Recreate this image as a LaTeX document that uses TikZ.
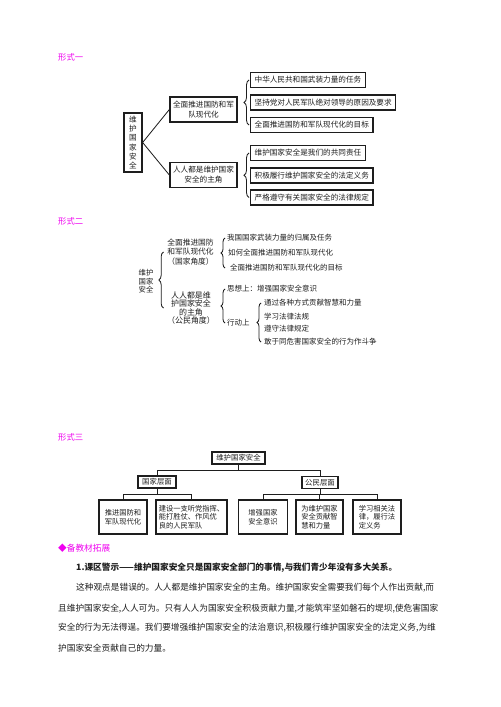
\documentclass[tikz,border=0pt]{standalone}
\usepackage{fontspec}
\setmainfont{Noto Sans CJK SC}
\usetikzlibrary{decorations.pathreplacing}
\definecolor{titlemag}{RGB}{240,0,240}
\definecolor{inkgray}{RGB}{30,30,30}
\tikzset{
  box/.style={draw=inkgray, line width=1.1pt, inner sep=0pt, align=center, text=inkgray},
  leaf/.style={box, anchor=west, inner xsep=0.12cm, minimum height=0.45cm, font=\fontsize{6.5}{8.5}\selectfont},
  plain/.style={inner sep=0pt, text=inkgray},
  item/.style={plain, anchor=west, font=\fontsize{6.4}{7.6}\selectfont},
  link/.style={draw=inkgray, line width=0.7pt},
  curly/.style={link, decorate, decoration={brace, amplitude=#1}},
  curly/.default=0.15cm,
  heading/.style={anchor=west, inner sep=0pt, text=titlemag, font=\fontsize{7.1}{8}\selectfont},
  bodyline/.style={anchor=west, inner sep=0pt, text=inkgray, font=\fontsize{7.4}{8}\selectfont}
}
\begin{document}
\begin{tikzpicture}[x=0.03cm, y=-0.03cm]
\fill[white] (0,0) rectangle (500,707);
\useasboundingbox (0,0) rectangle (500,707);

\node[heading] (t1) at (58,57.5) {形式一};
\node[box, minimum width=0.54cm, minimum height=1.77cm, font=\fontsize{6.5}{7.97}\selectfont] (r1) at (133,142.5) {维\\护\\国\\家\\安\\全};
\node[box, minimum width=2.01cm, minimum height=0.75cm, font=\fontsize{6.5}{8.5}\selectfont] (a1) at (203.5,109.5) {全面推进国防和军\\队现代化};
\node[box, minimum width=2.01cm, minimum height=0.75cm, font=\fontsize{6.5}{8.5}\selectfont] (a2) at (203.5,175) {人人都是维护国家\\安全的主角};
\node[leaf] (l1) at (250,80) {中华人民共和国武装力量的任务};
\node[leaf] (l2) at (250,102.5) {坚持党对人民军队绝对领导的原因及要求};
\node[leaf] (l3) at (250,125) {全面推进国防和军队现代化的目标};
\node[leaf] (l4) at (250,153) {维护国家安全是我们的共同责任};
\node[leaf] (l5) at (250,175.5) {积极履行维护国家安全的法定义务};
\node[leaf] (l6) at (250,197.5) {严格遵守有关国家安全的法律规定};
\coordinate (k1) at (249,0);
\draw[link] (r1.east) -- (a1.west);
\draw[link] (r1.east) -- (a2.west);
\draw[curly] (k1 |- l3) -- (k1 |- l1);
\draw[curly] (k1 |- l6) -- (k1 |- l4);

\node[heading] (t2) at (58,221) {形式二};
\node[plain, align=center, font=\fontsize{6.3}{7.1}\selectfont] (b0) at (146,281.5) {维护\\国家\\安全};
\node[plain, align=center, font=\fontsize{6.6}{7.9}\selectfont] (b1) at (190.5,252) {全面推进国防\\和军队现代化\\（国家角度）};
\node[plain, align=center, font=\fontsize{6.8}{7.2}\selectfont] (b2) at (191,308) {人人都是维\\护国家安全\\的主角\\（公民角度）};
\node[item] (c1) at (227,238) {我国国家武装力量的归属及任务};
\node[item] (c2) at (228,253) {如何全面推进国防和军队现代化};
\node[item] (c3) at (230,268) {全面推进国防和军队现代化的目标};
\node[item] (d1) at (227,289) {思想上：增强国家安全意识};
\node[item] (d2) at (227,323) {行动上};
\node[item] (e1) at (264,303) {通过各种方式贡献智慧和力量};
\node[item] (e2) at (264,316.5) {学习法律法规};
\node[item] (e3) at (264,329) {遵守法律规定};
\node[item] (e4) at (264,342) {敢于同危害国家安全的行为作斗争};
\coordinate (k2) at (163.5,0);
\coordinate (k3) at (225,0);
\coordinate (k4) at (261,0);
\draw[curly=0.14cm] (k2 |- b2) -- (k2 |- b1);
\draw[curly=0.12cm] (k3 |- c3) -- (k3 |- c1);
\draw[curly=0.12cm] (k3 |- d2) -- (k3 |- d1);
\draw[curly=0.12cm] (k4 |- e4) -- (k4 |- e1);

\node[heading] (t3) at (58,437) {形式三};
\node[box, minimum width=1.59cm, minimum height=0.36cm, font=\fontsize{6.3}{7.4}\selectfont] (f0) at (238.5,458) {维护国家安全};
\node[box, minimum width=1.14cm, minimum height=0.36cm, font=\fontsize{6.3}{7.4}\selectfont] (f1) at (157,482) {国家层面};
\node[box, minimum width=1.08cm, minimum height=0.36cm, font=\fontsize{6.3}{7.4}\selectfont] (f2) at (320,482.5) {公民层面};
\node[box, minimum width=1.44cm, minimum height=1.02cm, font=\fontsize{6.2}{7.4}\selectfont] (g1) at (123,517) {推进国防和\\军队现代化};
\node[box, align=left, minimum width=2.13cm, minimum height=1.02cm, font=\fontsize{6.2}{7.4}\selectfont] (g2) at (191.5,517) {建设一支听党指挥、\\能打胜仗、作风优\\良的人民军队};
\node[box, minimum width=1.47cm, minimum height=1.02cm, font=\fontsize{6.2}{7.4}\selectfont] (g3) at (263,517) {增强国家\\安全意识};
\node[box, align=left, minimum width=1.41cm, minimum height=1.02cm, font=\fontsize{6.2}{7.4}\selectfont] (g4) at (319.5,517) {为维护国家\\安全贡献智\\慧和力量};
\node[box, align=left, minimum width=1.44cm, minimum height=1.02cm, font=\fontsize{6.2}{7.4}\selectfont] (g5) at (377,517) {学习相关法\\律，履行法\\定义务};
\draw[link] (f0.south) -- ++(0,6) -| (f1.north);
\draw[link] (f0.south) -- ++(0,6) -| (f2.north);
\draw[link] (f1.south) -- ++(0,6) -| (g1.north);
\draw[link] (f1.south) -- ++(0,6) -| (g2.north);
\draw[link] (f2.south) -- ++(0,5.5) -| (g3.north);
\draw[link] (f2.south) -- ++(0,5.5) -| (g4.north);
\draw[link] (f2.south) -- ++(0,5.5) -| (g5.north);

\node[heading, font=\fontsize{7.4}{8}\selectfont] (h1) at (58,548) {◆备教材拓展};
\node[bodyline, font=\fontsize{7.4}{8}\bfseries\selectfont] (h2) at (76,568) {1.课区警示——维护国家安全只是国家安全部门的事情,与我们青少年没有多大关系。};
\node[bodyline] (p1) at (76,588) {这种观点是错误的。人人都是维护国家安全的主角。维护国家安全需要我们每个人作出贡献,而};
\node[bodyline] (p2) at (58,608.5) {且维护国家安全,人人可为。只有人人为国家安全积极贡献力量,才能筑牢坚如磐石的堤坝,使危害国家};
\node[bodyline] (p3) at (58,628) {安全的行为无法得逞。我们要增强维护国家安全的法治意识,积极履行维护国家安全的法定义务,为维};
\node[bodyline] (p4) at (58,648) {护国家安全贡献自己的力量。};
\end{tikzpicture}
\end{document}
